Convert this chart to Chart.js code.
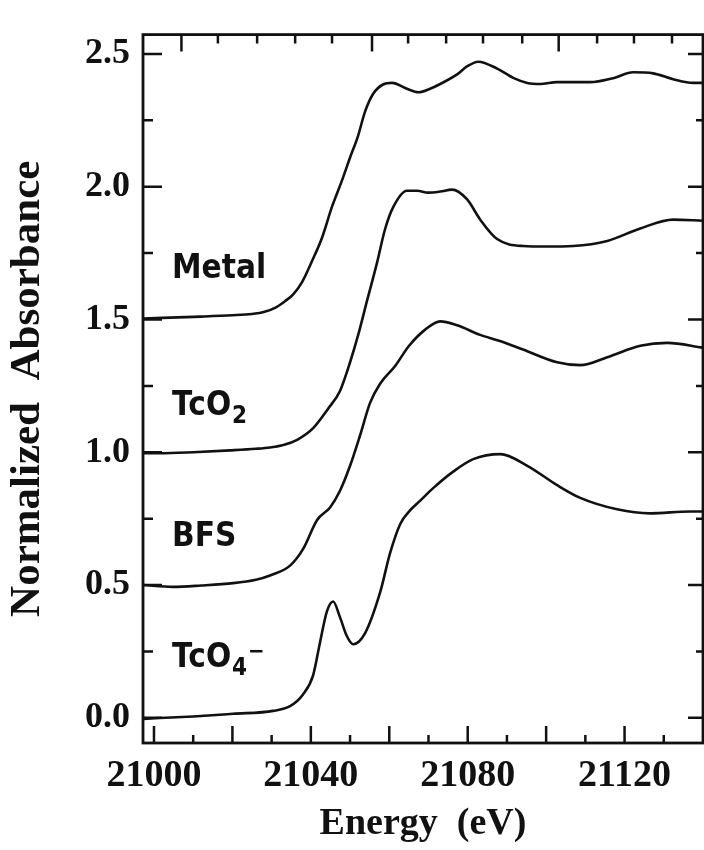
<!DOCTYPE html>
<html>
<head>
<meta charset="utf-8">
<script src="https://cdn.jsdelivr.net/npm/chart.js@4/dist/chart.umd.min.js"></script>
<style>
  html, body { margin: 0; padding: 0; background: #fff; }
  #wrap { width: 704px; height: 850px; }
</style>
</head>
<body>
<div id="wrap"><canvas id="xanesChart" width="704" height="850"></canvas></div>
<script>
// energies (eV) and normalized absorbance, one pair per spectrum
const metalEnergy = [20997.2, 21012, 21020, 21025, 21028, 21031, 21033.5, 21035.5, 21037.8, 21040.3, 21042.9, 21045.4, 21048, 21050, 21052, 21053.8, 21055.9, 21058.4, 21060.7, 21064.5, 21067.5, 21070.4, 21073, 21077.3, 21079.8, 21082.7, 21087.5, 21091.6, 21095.2, 21098.5, 21102.8, 21111.2, 21117.1, 21122.2, 21127.3, 21132.4, 21137.5, 21140];
const metalAbs    = [1.504, 1.511, 1.516, 1.521, 1.528, 1.545, 1.57, 1.595, 1.642, 1.72, 1.81, 1.925, 2.026, 2.11, 2.19, 2.282, 2.35, 2.385, 2.391, 2.369, 2.356, 2.369, 2.387, 2.423, 2.453, 2.471, 2.445, 2.41, 2.391, 2.387, 2.394, 2.394, 2.409, 2.431, 2.427, 2.405, 2.391, 2.391];

const tco2Energy = [20997.2, 21001.5, 21010, 21019.4, 21026, 21029.6, 21033, 21036.5, 21040.6, 21044.4, 21047.4, 21050, 21052, 21054.3, 21056.9, 21058.9, 21061, 21064.5, 21067.1, 21069.9, 21073, 21076, 21079.8, 21083.2, 21087.5, 21094.1, 21100, 21106.9, 21115.6, 21124, 21132.4, 21140];
const tco2Abs    = [0.996, 0.996, 1.0, 1.007, 1.013, 1.018, 1.027, 1.047, 1.091, 1.164, 1.23, 1.339, 1.438, 1.569, 1.715, 1.839, 1.923, 1.985, 1.985, 1.978, 1.982, 1.989, 1.953, 1.876, 1.803, 1.777, 1.775, 1.777, 1.796, 1.843, 1.876, 1.872];

const bfsEnergy = [20997.2, 21004.8, 21012, 21020.2, 21026, 21029.6, 21034.7, 21038, 21041.6, 21044.9, 21047.4, 21050, 21052.6, 21055.1, 21057.7, 21061.5, 21065, 21069, 21073, 21077.3, 21083.2, 21088, 21094.1, 21102.8, 21108.7, 21115.6, 21124, 21130.9, 21140];
const bfsAbs    = [0.5, 0.493, 0.498, 0.507, 0.52, 0.536, 0.573, 0.635, 0.745, 0.792, 0.854, 0.949, 1.066, 1.186, 1.259, 1.325, 1.4, 1.46, 1.493, 1.478, 1.442, 1.42, 1.387, 1.339, 1.328, 1.358, 1.401, 1.412, 1.394];

const tco4Energy = [20997.2, 21010, 21020.2, 21030.4, 21034.7, 21038, 21040.6, 21042.3, 21044.1, 21045.7, 21047.4, 21049.2, 21050.8, 21053.8, 21057.7, 21060.2, 21062.8, 21065.3, 21067.9, 21071.2, 21076.3, 21081.4, 21088.3, 21095.2, 21102.8, 21108.7, 21118.1, 21126.5, 21136.7, 21140];
const tco4Abs    = [-0.004, 0.005, 0.015, 0.026, 0.044, 0.088, 0.161, 0.281, 0.401, 0.438, 0.38, 0.307, 0.277, 0.318, 0.474, 0.62, 0.73, 0.781, 0.818, 0.865, 0.927, 0.974, 0.993, 0.949, 0.876, 0.828, 0.785, 0.77, 0.777, 0.777];

// axis ticks
const xTickLabels = [21000, 21040, 21080, 21120];
const xMajorTicks = [21000, 21020, 21040, 21060, 21080, 21100, 21120];
const xMinorTicks = [21010, 21030, 21050, 21070, 21090, 21110, 21130];
const topMajorTicks = [21007, 21055.6, 21103.2];
const topMinorTicks = [21016.3, 21026.3, 21036, 21045.4, 21064.8, 21074.5, 21083.9, 21093.9, 21113, 21122.4, 21132.1];
const yTickLabels = [0, 0.5, 1.0, 1.5, 2.0, 2.5];
const yMinorTicks = [0.25, 0.75, 1.25, 1.75, 2.25];

// curve names, placed left of each spectrum
const curveNames = [
  { text: 'Metal', sub: '', sup: '', x: 21004.6, y: 1.657 },
  { text: 'TcO', sub: '2', sup: '', x: 21004.6, y: 1.139 },
  { text: 'BFS', sub: '', sup: '', x: 21004.6, y: 0.646 },
  { text: 'TcO', sub: '4', sup: '\u2212', x: 21004.6, y: 0.19 }
];

const toPoints = (xs, ys) => xs.map((x, i) => ({ x: x, y: ys[i] }));

const lineStyle = {
  borderColor: '#111',
  borderWidth: 2.6,
  pointRadius: 0,
  fill: false,
  cubicInterpolationMode: 'monotone'
};

const frameAndTicks = {
  id: 'frameAndTicks',
  afterDatasetsDraw(chart) {
    const { ctx, chartArea: a, scales: { x, y } } = chart;
    ctx.save();
    ctx.strokeStyle = '#111';
    ctx.lineWidth = 2.5;
    ctx.beginPath();
    const vx = (v, y0, len) => { const p = x.getPixelForValue(v); ctx.moveTo(p, y0); ctx.lineTo(p, y0 + len); };
    const hy = (v, x0, len) => { const p = y.getPixelForValue(v); ctx.moveTo(x0, p); ctx.lineTo(x0 + len, p); };
    xMajorTicks.forEach(v => vx(v, a.bottom, -17));
    xMinorTicks.forEach(v => vx(v, a.bottom, -8));
    topMajorTicks.forEach(v => vx(v, a.top, 17));
    topMinorTicks.forEach(v => vx(v, a.top, 9));
    yTickLabels.forEach(v => { hy(v, a.left, 19); hy(v, a.right, -15); });
    yMinorTicks.forEach(v => { hy(v, a.left, 10); hy(v, a.right, -7); });
    ctx.stroke();
    ctx.lineWidth = 2.8;
    ctx.strokeRect(a.left, a.top, a.right - a.left, a.bottom - a.top);
    ctx.restore();
  }
};

const curveLabels = {
  id: 'curveLabels',
  afterDatasetsDraw(chart) {
    const { ctx, scales: { x, y } } = chart;
    ctx.save();
    ctx.fillStyle = '#111';
    ctx.textBaseline = 'alphabetic';
    curveNames.forEach(n => {
      const px = x.getPixelForValue(n.x);
      const py = y.getPixelForValue(n.y);
      ctx.save();
      ctx.translate(px, py);
      ctx.scale(0.9, 1);
      ctx.font = 'bold 33px "DejaVu Sans"';
      ctx.fillText(n.text, 0, 0);
      let w = ctx.measureText(n.text).width;
      if (n.sub) {
        ctx.font = 'bold 24px "DejaVu Sans"';
        ctx.fillText(n.sub, w + 1, 8);
        w += ctx.measureText(n.sub).width + 2;
      }
      if (n.sup) {
        ctx.font = 'bold 22px "DejaVu Sans"';
        ctx.fillText(n.sup, w, -9);
      }
      ctx.restore();
    });
    ctx.restore();
  }
};

const serif = '"Liberation Serif", "Times New Roman", serif';

new Chart(document.getElementById('xanesChart'), {
  type: 'line',
  data: {
    datasets: [
      Object.assign({ label: 'Metal', data: toPoints(metalEnergy, metalAbs) }, lineStyle),
      Object.assign({ label: 'TcO2', data: toPoints(tco2Energy, tco2Abs) }, lineStyle),
      Object.assign({ label: 'BFS', data: toPoints(bfsEnergy, bfsAbs) }, lineStyle),
      Object.assign({ label: 'TcO4-', data: toPoints(tco4Energy, tco4Abs) }, lineStyle)
    ]
  },
  options: {
    responsive: false,
    animation: false,
    layout: { padding: { top: 13, right: 1, left: 0, bottom: 0 } },
    plugins: {
      legend: { display: false },
      tooltip: { enabled: false }
    },
    scales: {
      x: {
        type: 'linear',
        min: 20997.2,
        max: 21140,
        grid: { display: false, drawTicks: false },
        border: { display: false },
        afterBuildTicks: axis => { axis.ticks = xTickLabels.map(v => ({ value: v })); },
        afterFit: scale => { scale.height = 107; },
        ticks: {
          padding: 10,
          color: '#111',
          maxRotation: 0,
          autoSkip: false,
          font: { family: serif, size: 38, weight: 'bold' },
          callback: v => String(v)
        },
        title: {
          display: true,
          text: 'Energy  (eV)',
          color: '#111',
          padding: { top: 0, bottom: 3 },
          font: { family: serif, size: 38, weight: 'bold' }
        }
      },
      y: {
        min: -0.095,
        max: 2.573,
        grid: { display: false, drawTicks: false },
        border: { display: false },
        afterBuildTicks: axis => { axis.ticks = yTickLabels.map(v => ({ value: v })); },
        afterFit: scale => { scale.width = 143; },
        ticks: {
          padding: 13,
          color: '#111',
          autoSkip: false,
          font: { family: serif, size: 36, weight: 'bold' },
          callback: v => v.toFixed(1)
        },
        title: {
          display: true,
          text: 'Normalized  Absorbance',
          color: '#111',
          padding: { top: 2, bottom: 0 },
          font: { family: serif, size: 43, weight: 'bold' }
        }
      }
    }
  },
  plugins: [frameAndTicks, curveLabels]
});
</script>
</body>
</html>
